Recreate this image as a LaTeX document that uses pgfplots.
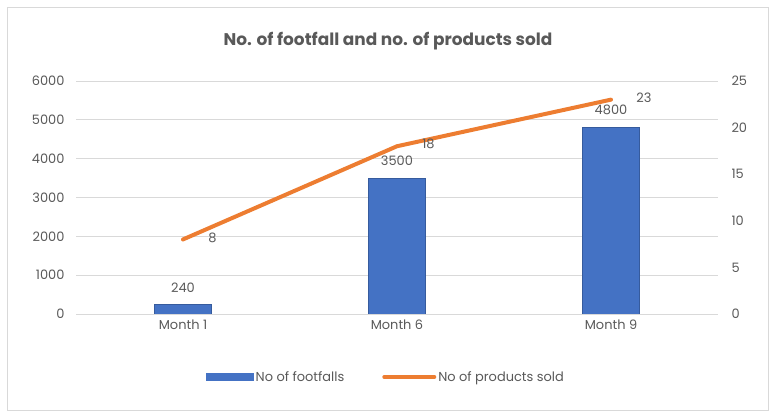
\documentclass[border=0pt]{standalone}
\usepackage{pgfplots}
\pgfplotsset{compat=1.18}
\usepackage{fontspec}
\setmainfont{Poppins}
\definecolor{barblue}{HTML}{4472C4}
\definecolor{lineorange}{HTML}{ED7D31}
\definecolor{txtgray}{HTML}{595959}
\definecolor{gridgray}{HTML}{D9D9D9}
\begin{document}
\begin{tikzpicture}
\useasboundingbox (0,0) rectangle (775bp,417bp);
\draw[gridgray, line width=0.8bp] (7bp,7bp) rectangle (768bp,410bp);
\node[text=txtgray, font=\fontsize{17}{20}\selectfont\bfseries] at (388bp,376bp) {No. of footfall and no. of products sold};
\begin{axis}[
  at={(76bp,103bp)}, anchor=south west,
  scale only axis, width=642bp, height=233bp,
  xmin=-0.5, xmax=2.5, ymin=0, ymax=6000,
  xtick={0,1,2}, xticklabels={Month 1,Month 6,Month 9},
  ytick={0,1000,...,6000},
  axis line style={draw=none},
  tick style={draw=none},
  ymajorgrids, grid style={gridgray, line width=0.8bp},
  ticklabel style={text=txtgray, font=\fontsize{13}{15}\selectfont},
  /pgf/number format/assume math mode=true,
  /pgf/number format/1000 sep={},
  yticklabel style={xshift=-8bp},
  xticklabel style={yshift=-2bp},
  legend style={at={(0.483,-0.27)}, anchor=center, draw=none, legend columns=2,
    font=\fontsize{13}{15}\selectfont, text=txtgray,
    /tikz/every even column/.append style={column sep=36bp}},
  legend cell align=left,
]
\addplot[ybar, bar width=57bp, fill=barblue, draw=barblue!80!black, line width=0.4bp,
  nodes near coords, every node near coord/.append style={text=txtgray, font=\fontsize{13}{15}\selectfont, yshift=9bp},
  legend image code/.code={\fill[barblue] (0bp,-3.5bp) rectangle (47bp,3.5bp);}]
  coordinates {(0,240) (1,3500) (2,4800)};
\addlegendentry{No of footfalls}
\addlegendimage{lineorange, line width=4bp, line cap=round, legend image code/.code={\draw[lineorange, line width=4bp, line cap=round] (0bp,0bp) -- (50bp,0bp);}}
\addlegendentry{No of products sold}
\end{axis}
\begin{axis}[
  at={(76bp,103bp)}, anchor=south west,
  scale only axis, width=642bp, height=233bp,
  xmin=-0.5, xmax=2.5, ymin=0, ymax=25,
  xtick=\empty,
  ytick={0,5,...,25},
  axis y line*=right, axis x line=none,
  axis line style={draw=none},
  tick style={draw=none},
  ticklabel style={text=txtgray, font=\fontsize{13}{15}\selectfont},
  /pgf/number format/assume math mode=true,
  yticklabel style={xshift=10bp},
]
\addplot[lineorange, line width=4bp, line cap=round, line join=round,
  nodes near coords, every node near coord/.append style={text=txtgray, font=\fontsize{13}{15}\selectfont, anchor=west, xshift=20bp, yshift=2bp}]
  coordinates {(0,8) (1,18) (2,23)};
\end{axis}
\end{tikzpicture}
\end{document}
